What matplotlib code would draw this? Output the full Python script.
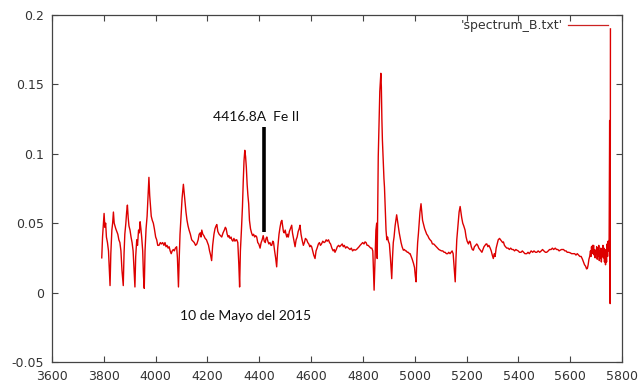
import matplotlib
matplotlib.use('Agg')
from matplotlib import pyplot

# spectrum_B.txt: wavelength (Angstrom) and relative flux
wavelength = [
    3792, 3795, 3798, 3801, 3804, 3807, 3810, 3814, 3818, 3821,
    3824, 3827, 3831, 3834, 3837, 3840, 3843, 3846, 3850, 3854,
    3858, 3862, 3866, 3870, 3875, 3878, 3881, 3885, 3888, 3891,
    3894, 3897, 3901, 3905, 3909, 3913, 3917, 3920, 3923, 3927,
    3930, 3934, 3937, 3940, 3943, 3946, 3950, 3953, 3956, 3959,
    3963, 3967, 3971, 3974, 3977, 3980, 3983, 3987, 3991, 3995,
    4000, 4004, 4008, 4013, 4018, 4022, 4027, 4032, 4036, 4040,
    4044, 4048, 4052, 4056, 4060, 4064, 4068, 4072, 4076, 4081,
    4084, 4088, 4091, 4094, 4098, 4102, 4107, 4110, 4114, 4117,
    4121, 4125, 4129, 4134, 4139, 4144, 4149, 4154, 4159, 4164,
    4168, 4172, 4175, 4178, 4182, 4186, 4191, 4196, 4200, 4204,
    4208, 4212, 4216, 4220, 4225, 4229, 4233, 4236, 4240, 4245,
    4250, 4255, 4260, 4265, 4269, 4272, 4276, 4280, 4283, 4287,
    4291, 4294, 4298, 4302, 4306, 4310, 4313, 4317, 4321, 4324,
    4327, 4331, 4335, 4338, 4341, 4344, 4347, 4350, 4353, 4356,
    4359, 4362, 4366, 4370, 4374, 4378, 4382, 4386, 4390, 4394,
    4398, 4403, 4407, 4411, 4415, 4419, 4423, 4426, 4429, 4433,
    4437, 4441, 4445, 4448, 4452, 4455, 4459, 4463, 4467, 4471,
    4476, 4480, 4484, 4487, 4490, 4493, 4496, 4500, 4503, 4506,
    4509, 4512, 4516, 4520, 4525, 4528, 4531, 4535, 4538, 4542,
    4546, 4550, 4554, 4557, 4561, 4565, 4570, 4574, 4578, 4583,
    4587, 4591, 4595, 4598, 4602, 4606, 4610, 4615, 4619, 4623,
    4628, 4632, 4636, 4640, 4645, 4650, 4654, 4658, 4662, 4667,
    4671, 4675, 4680, 4685, 4689, 4692, 4697, 4701, 4706, 4710,
    4715, 4720, 4724, 4728, 4733, 4738, 4744, 4750, 4755, 4760,
    4765, 4770, 4775, 4780, 4785, 4789, 4794, 4799, 4804, 4808,
    4812, 4816, 4820, 4825, 4830, 4834, 4838, 4841, 4843, 4846,
    4850, 4853, 4855, 4857, 4859, 4862, 4865, 4867, 4869, 4871,
    4873, 4875, 4878, 4881, 4883, 4886, 4889, 4892, 4895, 4898,
    4902, 4906, 4911, 4914, 4917, 4920, 4924, 4927, 4930, 4933,
    4936, 4940, 4943, 4947, 4951, 4956, 4960, 4964, 4967, 4971,
    4975, 4979, 4982, 4986, 4990, 4995, 4999, 5002, 5005, 5008,
    5011, 5014, 5017, 5020, 5024, 5027, 5030, 5034, 5038, 5042,
    5046, 5050, 5055, 5059, 5064, 5068, 5073, 5078, 5083, 5088,
    5093, 5098, 5103, 5108, 5113, 5117, 5122, 5127, 5131, 5136,
    5140, 5144, 5148, 5152, 5156, 5159, 5162, 5165, 5168, 5171,
    5175, 5178, 5181, 5185, 5189, 5194, 5198, 5202, 5207, 5211,
    5214, 5218, 5222, 5226, 5230, 5235, 5239, 5243, 5247, 5251,
    5255, 5259, 5263, 5267, 5271, 5275, 5278, 5282, 5286, 5291,
    5295, 5299, 5303, 5307, 5310, 5314, 5318, 5322, 5327, 5331,
    5335, 5339, 5342, 5346, 5350, 5355, 5360, 5365, 5370, 5375,
    5380, 5385, 5390, 5394, 5399, 5404, 5410, 5415, 5420, 5425,
    5432, 5437, 5442, 5449, 5455, 5460, 5466, 5471, 5476, 5482,
    5488, 5493, 5498, 5504, 5509, 5515, 5520, 5526, 5531, 5536,
    5542, 5547, 5552, 5557, 5561, 5566, 5570, 5574, 5579, 5584,
    5588, 5594, 5600, 5605, 5611, 5617, 5622, 5627, 5632, 5637,
    5642, 5647, 5651, 5655, 5659, 5663, 5666, 5669, 5672, 5675,
    5678, 5680, 5682, 5684, 5686, 5688, 5690, 5692, 5694, 5696,
    5698, 5700, 5702, 5704, 5706, 5708, 5710, 5712, 5714, 5716,
    5718, 5720, 5722, 5724, 5726, 5728, 5730, 5732, 5734, 5736,
    5738, 5740, 5742, 5744, 5746, 5748, 5750, 5752, 5753, 5754, 5755,
]
flux = [
    0.025, 0.040, 0.048, 0.057, 0.047, 0.050, 0.040, 0.036, 0.030, 0.018,
    0.005, 0.028, 0.045, 0.050, 0.058, 0.050, 0.048, 0.046, 0.044, 0.042,
    0.038, 0.036, 0.030, 0.016, 0.005, 0.028, 0.042, 0.050, 0.058, 0.063,
    0.054, 0.048, 0.045, 0.040, 0.036, 0.030, 0.015, 0.004, 0.026, 0.038,
    0.034, 0.045, 0.043, 0.051, 0.046, 0.040, 0.030, 0.012, 0.003, 0.030,
    0.046, 0.055, 0.072, 0.083, 0.070, 0.062, 0.055, 0.052, 0.050, 0.046,
    0.040, 0.038, 0.034, 0.034, 0.036, 0.035, 0.036, 0.034, 0.036, 0.033,
    0.034, 0.032, 0.033, 0.030, 0.028, 0.030, 0.031, 0.030, 0.032, 0.033,
    0.025, 0.004, 0.025, 0.042, 0.055, 0.068, 0.078, 0.072, 0.064, 0.058,
    0.052, 0.048, 0.045, 0.042, 0.038, 0.037, 0.036, 0.034, 0.035, 0.038,
    0.042, 0.043, 0.040, 0.045, 0.042, 0.041, 0.039, 0.038, 0.036, 0.034,
    0.030, 0.027, 0.023, 0.034, 0.042, 0.046, 0.048, 0.049, 0.044, 0.042,
    0.041, 0.040, 0.043, 0.045, 0.047, 0.046, 0.042, 0.040, 0.041, 0.039,
    0.040, 0.038, 0.037, 0.039, 0.037, 0.038, 0.038, 0.036, 0.020, 0.004,
    0.030, 0.045, 0.062, 0.080, 0.095, 0.1025, 0.098, 0.090, 0.078, 0.070,
    0.064, 0.052, 0.046, 0.043, 0.041, 0.042, 0.040, 0.041, 0.040, 0.036,
    0.035, 0.032, 0.036, 0.038, 0.041, 0.037, 0.036, 0.039, 0.040, 0.037,
    0.035, 0.036, 0.034, 0.034, 0.037, 0.036, 0.030, 0.025, 0.0185, 0.032,
    0.042, 0.047, 0.051, 0.052, 0.048, 0.044, 0.043, 0.045, 0.042, 0.040,
    0.042, 0.040, 0.044, 0.046, 0.0485, 0.043, 0.040, 0.036, 0.033, 0.038,
    0.040, 0.044, 0.046, 0.0485, 0.042, 0.038, 0.034, 0.036, 0.039, 0.038,
    0.036, 0.035, 0.033, 0.034, 0.033, 0.030, 0.027, 0.0245, 0.030, 0.032,
    0.035, 0.036, 0.034, 0.035, 0.037, 0.036, 0.0365, 0.038, 0.037, 0.038,
    0.036, 0.035, 0.032, 0.030, 0.031, 0.029, 0.031, 0.033, 0.034, 0.033,
    0.034, 0.035, 0.033, 0.034, 0.032, 0.033, 0.032, 0.031, 0.032, 0.030,
    0.031, 0.0305, 0.031, 0.032, 0.033, 0.034, 0.035, 0.036, 0.035, 0.0365,
    0.036, 0.034, 0.034, 0.033, 0.032, 0.032, 0.030, 0.012, 0.0017, 0.020,
    0.045, 0.050, 0.0245, 0.060, 0.098, 0.120, 0.145, 0.152, 0.158, 0.148,
    0.125, 0.110, 0.095, 0.082, 0.076, 0.060, 0.045, 0.038, 0.040, 0.037,
    0.035, 0.025, 0.010, 0.025, 0.036, 0.040, 0.048, 0.052, 0.056, 0.052,
    0.048, 0.043, 0.040, 0.036, 0.033, 0.0305, 0.031, 0.030, 0.030, 0.029,
    0.029, 0.028, 0.028, 0.026, 0.024, 0.021, 0.018, 0.012, 0.0077, 0.025,
    0.036, 0.0425, 0.050, 0.058, 0.064, 0.058, 0.052, 0.049, 0.046, 0.044,
    0.042, 0.041, 0.039, 0.038, 0.037, 0.035, 0.035, 0.034, 0.033, 0.032,
    0.031, 0.0305, 0.030, 0.030, 0.029, 0.029, 0.028, 0.028, 0.029, 0.028,
    0.029, 0.030, 0.028, 0.018, 0.0077, 0.025, 0.038, 0.045, 0.052, 0.058,
    0.062, 0.058, 0.054, 0.050, 0.048, 0.045, 0.040, 0.037, 0.035, 0.037,
    0.0365, 0.033, 0.031, 0.0305, 0.033, 0.034, 0.035, 0.034, 0.032, 0.031,
    0.030, 0.029, 0.031, 0.033, 0.034, 0.035, 0.035, 0.033, 0.034, 0.032,
    0.030, 0.027, 0.0245, 0.028, 0.026, 0.032, 0.035, 0.038, 0.039, 0.038,
    0.037, 0.036, 0.0365, 0.034, 0.033, 0.032, 0.032, 0.031, 0.032, 0.031,
    0.031, 0.030, 0.031, 0.0305, 0.030, 0.029, 0.029, 0.030, 0.029, 0.028,
    0.028, 0.029, 0.028, 0.030, 0.029, 0.030, 0.029, 0.029, 0.030, 0.029,
    0.030, 0.031, 0.030, 0.029, 0.029, 0.030, 0.031, 0.031, 0.032, 0.031,
    0.032, 0.031, 0.031, 0.030, 0.0305, 0.031, 0.031, 0.031, 0.030, 0.030,
    0.029, 0.029, 0.0286, 0.028, 0.028, 0.028, 0.027, 0.028, 0.027, 0.026,
    0.026, 0.024, 0.022, 0.020, 0.019, 0.017, 0.0174, 0.020, 0.024, 0.026,
    0.030, 0.026, 0.033, 0.028, 0.034, 0.030, 0.034, 0.027, 0.031, 0.025,
    0.030, 0.028, 0.033, 0.024, 0.032, 0.026, 0.034, 0.023, 0.030, 0.025,
    0.032, 0.022, 0.030, 0.026, 0.034, 0.025, 0.032, 0.022, 0.031, 0.020,
    0.028, 0.022, 0.035, 0.026, 0.037, 0.030, 0.039, 0.124, 0.0125, -0.008, 0.19,
]

# marked Fe II line
feii_wavelength = 4416.8
feii_bottom = 0.0435
feii_top = 0.119
feii_label = '4416.8A  Fe II'
date_label = '10 de Mayo del 2015'


def main():
    fig = pyplot.figure(figsize=(6.42, 3.85), dpi=100)
    ax = fig.add_axes([0.081, 0.06, 0.888, 0.901])

    ax.plot(wavelength, flux, '-', color='#dd0000', linewidth=1.0,
            label="'spectrum_B.txt'")

    ax.plot([feii_wavelength, feii_wavelength], [feii_bottom, feii_top],
            color='black', linewidth=2.6, solid_capstyle='butt')
    ax.text(4389, 0.1262, feii_label, ha='center', va='center',
            fontsize=10, family='Lato', color='#111111')
    ax.text(4347, -0.017, date_label, ha='center', va='center',
            fontsize=10, family='Lato', color='#111111')

    ax.set_xlim(3600, 5800)
    ax.set_ylim(-0.05, 0.2)
    ax.set_xticks(range(3600, 5801, 200))
    ax.set_yticks([-0.05, 0, 0.05, 0.1, 0.15, 0.2])
    ax.set_yticklabels(['-0.05', '0', '0.05', '0.1', '0.15', '0.2'])

    ax.tick_params(direction='in', top=True, right=True, length=4,
                   width=0.8, color='#444444', labelsize=9,
                   labelcolor='#333333', pad=6)
    for spine in ax.spines.values():
        spine.set_color('#444444')
        spine.set_linewidth(0.9)

    leg = ax.legend(loc='upper right', bbox_to_anchor=(0.9754, 0.988),
                    frameon=False, markerfirst=False, handlelength=3.2,
                    handletextpad=0.4, borderaxespad=0, borderpad=0,
                    fontsize=9)
    for line in leg.get_lines():
        line.set_linewidth(0.9)
        line.set_color('#cc2222')
    for text in leg.get_texts():
        text.set_color('#333333')

    pyplot.savefig('out.png', dpi=100)


if __name__ == '__main__':
    main()
